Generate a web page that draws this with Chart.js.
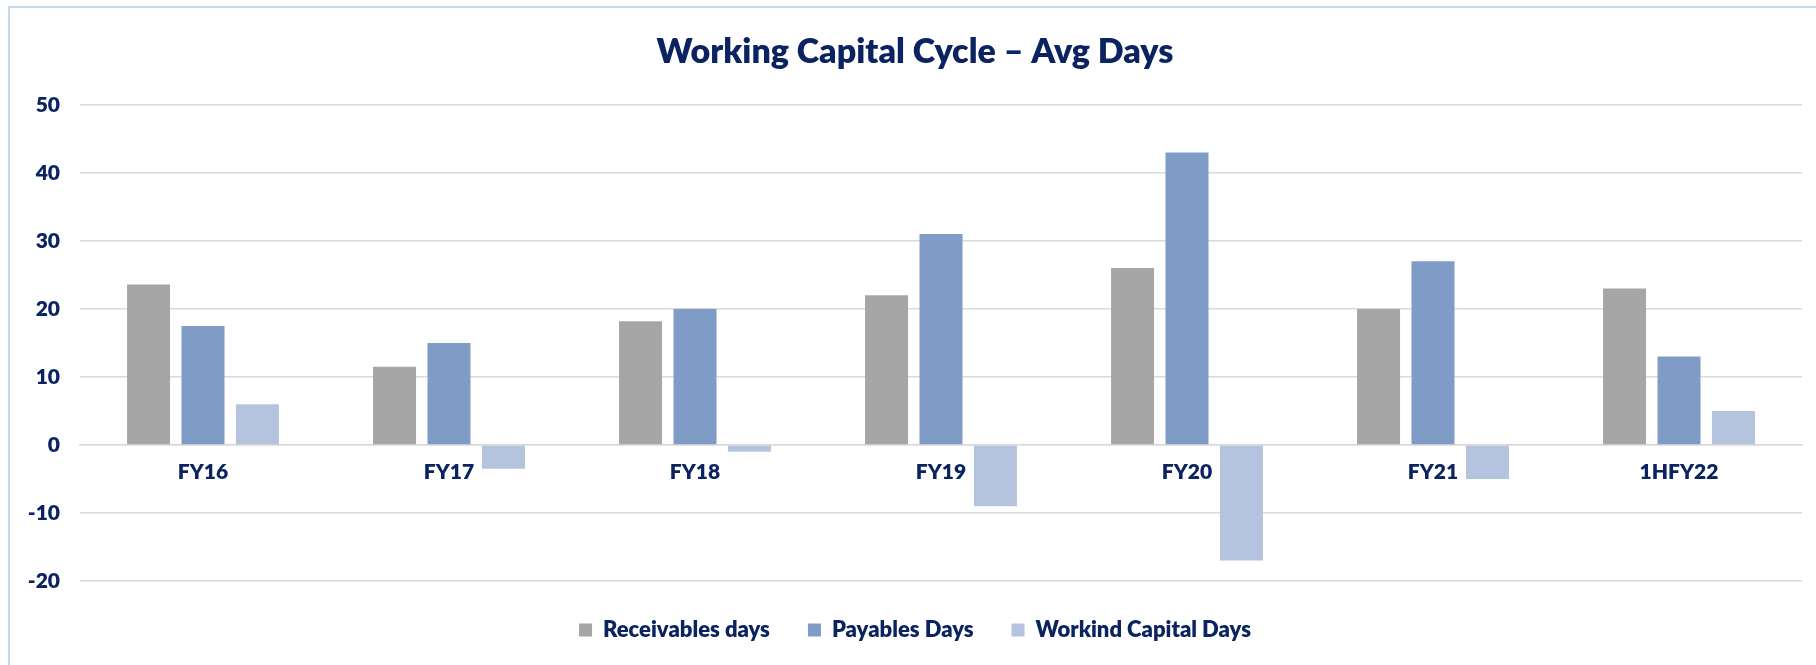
<!DOCTYPE html>
<html>
<head>
<meta charset="utf-8">
<script src="https://cdn.jsdelivr.net/npm/chart.js@4/dist/chart.umd.min.js"></script>
<style>
  html, body { margin: 0; padding: 0; background: #fff; overflow: hidden; }
  #frame { position: absolute; left: 8px; top: 6px; width: 2000px; height: 1000px; border: 2px solid #C9D7EC; }
  #wrap { position: absolute; left: 0; top: 0; width: 1816px; height: 665px; }
</style>
</head>
<body>
<div id="frame"></div>
<div id="wrap"><canvas id="wcChart"></canvas></div>
<script>
// donnees
const categories = ['FY16', 'FY17', 'FY18', 'FY19', 'FY20', 'FY21', '1HFY22'];
const receivablesDays = [23.6, 11.5, 18.2, 22, 26, 20, 23];
const payablesDays = [17.5, 15, 20, 31, 43, 27, 13];
const workingCapitalDays = [6, -3.5, -1, -9, -17, -5, 5];
const yTicks = [-20, -10, 0, 10, 20, 30, 40, 50];

const navy = '#0B2361';
const gridColor = '#D9D9D9';
const fontFamily = 'Lato, "Open Sans", sans-serif';

const ctx = document.getElementById('wcChart').getContext('2d');

new Chart(ctx, {
    type: 'bar',
    data: {
        labels: categories,
        datasets: [
            { label: 'Receivables days', data: receivablesDays, backgroundColor: '#A6A6A6' },
            { label: 'Payables Days', data: payablesDays, backgroundColor: '#7F9CC7' },
            { label: 'Workind Capital Days', data: workingCapitalDays, backgroundColor: '#B4C3DE' }
        ]
    },
    options: {
        responsive: true, maintainAspectRatio: false,
        animation: false,
        categoryPercentage: 0.664,
        barPercentage: 0.79,
        layout: { padding: { left: 28, right: 14, top: 0, bottom: 14 } },
        scales: {
            x: {
                position: { y: 0 },
                grid: { display: false, drawTicks: false },
                border: { display: true, color: gridColor, width: 1.5 },
                ticks: { color: navy, padding: 15, font: { family: fontFamily, size: 21, weight: 800 } }
            },
            y: {
                min: Math.min(...yTicks), max: Math.max(...yTicks),
                afterFit: scale => { scale.width = 52; },
                afterBuildTicks: scale => { scale.ticks = yTicks.map(v => ({ value: v })); },
                grid: { color: gridColor, lineWidth: 1.5, drawTicks: false },
                border: { display: false },
                ticks: { color: navy, padding: 20, font: { family: fontFamily, size: 21, weight: 800 } }
            }
        },
        plugins: {
            title: {
                display: true,
                text: 'Working Capital Cycle \u2013 Avg Days',
                color: navy,
                font: { family: fontFamily, size: 34, weight: 800, lineHeight: 1.2 },
                padding: { top: 32, bottom: 32 }
            },
            legend: {
                display: true,
                position: 'bottom',
                labels: {
                    color: navy,
                    boxWidth: 13, boxHeight: 13,
                    padding: 38,
                    font: { family: fontFamily, size: 22, weight: 800 }
                }
            },
            tooltip: { enabled: false }
        }
    }
});
</script>
</body>
</html>
